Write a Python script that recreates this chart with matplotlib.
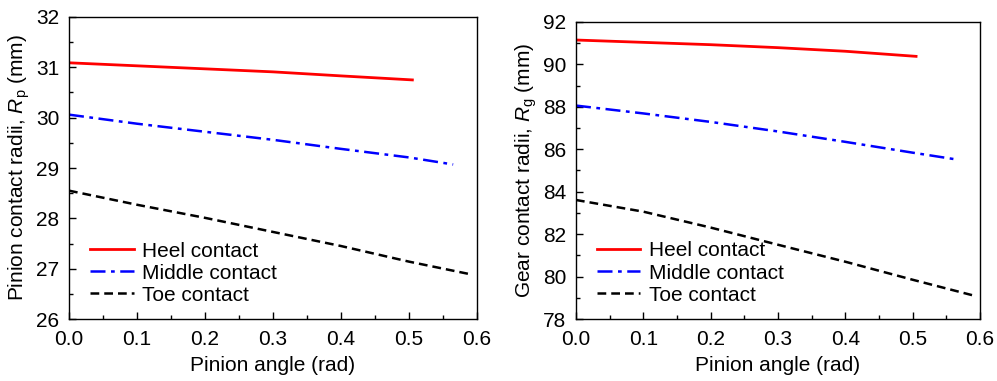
import numpy as np
import matplotlib
matplotlib.use("Agg")
import matplotlib.pyplot as plt
from matplotlib.ticker import MultipleLocator, FormatStrFormatter

plt.rcParams["font.family"] = ["Liberation Sans", "DejaVu Sans"]
plt.rcParams["mathtext.fontset"] = "custom"
plt.rcParams["mathtext.it"] = "Liberation Sans:italic"
plt.rcParams["mathtext.rm"] = "Liberation Sans"

# pinion contact radii (mm) vs pinion angle (rad)
p_heel_x = [0.0, 0.1, 0.2, 0.3, 0.4, 0.505]
p_heel_y = [31.09, 31.03, 30.97, 30.91, 30.83, 30.75]
p_mid_x = [0.0, 0.1, 0.2, 0.3, 0.4, 0.5, 0.565]
p_mid_y = [30.06, 29.88, 29.72, 29.56, 29.38, 29.21, 29.07]
p_toe_x = [0.0, 0.1, 0.2, 0.3, 0.4, 0.5, 0.59]
p_toe_y = [28.55, 28.27, 28.01, 27.73, 27.45, 27.14, 26.89]

# gear contact radii (mm) vs pinion angle (rad)
g_heel_x = [0.0, 0.1, 0.2, 0.3, 0.4, 0.505]
g_heel_y = [91.15, 91.04, 90.93, 90.79, 90.62, 90.38]
g_mid_x = [0.0, 0.1, 0.2, 0.3, 0.4, 0.5, 0.565]
g_mid_y = [88.06, 87.69, 87.29, 86.84, 86.35, 85.84, 85.52]
g_toe_x = [0.0, 0.1, 0.2, 0.3, 0.4, 0.5, 0.59]
g_toe_y = [83.61, 83.06, 82.31, 81.50, 80.70, 79.85, 79.11]

labels = ["Heel contact", "Middle contact", "Toe contact"]

fig = plt.figure(figsize=(9.97, 3.81), dpi=100)
ax1 = fig.add_axes([0.0692, 0.1627, 0.4092, 0.7927])
ax2 = fig.add_axes([0.5777, 0.1627, 0.4053, 0.7796])


def draw(ax, heel, mid, toe, ylim, ymajor, yminor, ylabel):
    ax.plot(*heel, color="#ff0000", lw=2.0, ls="-", label=labels[0])
    ax.plot(*mid, color="#0000ff", lw=1.8, ls=(0, (6, 2.2, 1.5, 2.2)), label=labels[1])
    ax.plot(*toe, color="black", lw=1.8, ls=(0, (3.5, 2)), label=labels[2])
    ax.set_xlim(0, 0.6)
    ax.set_ylim(*ylim)
    ax.xaxis.set_major_locator(MultipleLocator(0.1))
    ax.xaxis.set_minor_locator(MultipleLocator(0.05))
    ax.yaxis.set_major_locator(MultipleLocator(ymajor))
    ax.yaxis.set_minor_locator(MultipleLocator(yminor))
    ax.xaxis.set_major_formatter(FormatStrFormatter("%.1f"))
    ax.tick_params(which="both", direction="in", top=False, right=False,
                   labelsize=15, width=1.0)
    ax.tick_params(which="major", length=5)
    ax.tick_params(which="minor", length=3)
    ax.tick_params(axis="x", which="major", pad=8)
    ax.tick_params(axis="y", which="major", pad=7)
    for s in ax.spines.values():
        s.set_linewidth(1.0)
    ax.set_xlabel("Pinion angle (rad)", fontsize=15, labelpad=5)
    ax.set_ylabel(ylabel, fontsize=15, labelpad=3)
    ax.legend(loc="lower left", frameon=False, fontsize=15,
              handlelength=2.1, handletextpad=0.4, labelspacing=0.15,
              bbox_to_anchor=(0.005, -0.015))


draw(ax1, (p_heel_x, p_heel_y), (p_mid_x, p_mid_y), (p_toe_x, p_toe_y),
     (26, 32), 1, 0.5, r"Pinion contact radii, $R_\mathrm{p}$ (mm)")
draw(ax2, (g_heel_x, g_heel_y), (g_mid_x, g_mid_y), (g_toe_x, g_toe_y),
     (78, 92), 2, 1, r"Gear contact radii, $R_\mathrm{g}$ (mm)")

fig.savefig("out.png", dpi=100)
